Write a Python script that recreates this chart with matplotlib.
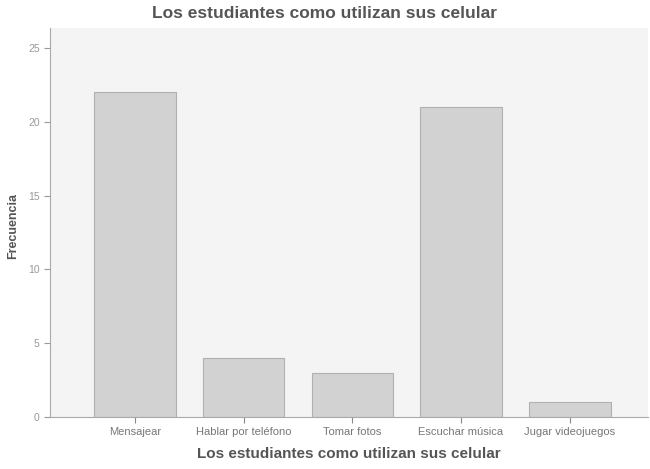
import matplotlib
matplotlib.use("Agg")
import matplotlib.pyplot as plt

# datos
categorias = ["Mensajear", "Hablar por teléfono", "Tomar fotos", "Escuchar música", "Jugar videojuegos"]
frecuencias = [22, 4, 3, 21, 1]
y_ticks = [0, 5, 10, 15, 20, 25]

plt.rcParams["font.family"] = ["Liberation Sans", "DejaVu Sans"]

fig = plt.figure(figsize=(6.5, 4.69), dpi=100)
ax = fig.add_axes([0.077, 0.111, 0.920, 0.829])
ax.set_facecolor("#f4f4f4")

x = range(len(categorias))
ax.bar(x, frecuencias, width=0.75, color="#d2d2d2", edgecolor="#b0b0b0", linewidth=0.8)

ax.set_xlim(-0.78, 4.72)
ax.set_ylim(0, 26.35)
ax.set_yticks(y_ticks)
ax.set_xticks(list(x))
ax.set_xticklabels(categorias, fontsize=8, color="#777777")
ax.tick_params(axis="y", labelsize=7.5, labelcolor="#999999", color="#999999", length=4)
ax.tick_params(axis="x", color="#888888", length=4)

for s in ["top", "right"]:
    ax.spines[s].set_visible(False)
for s in ["left", "bottom"]:
    ax.spines[s].set_color("#aaaaaa")

fig.suptitle("Los estudiantes como utilizan sus celular", x=0.5, y=0.988,
             fontsize=12.5, fontweight="bold", color="#555555")
ax.set_xlabel("Los estudiantes como utilizan sus celular", fontsize=11,
              fontweight="bold", color="#555555", labelpad=7)
fig.text(0.02, 0.518, "Frecuencia", rotation=90, ha="center", va="center",
         fontsize=9, fontweight="bold", color="#555555")

fig.savefig("out.png", dpi=100)
